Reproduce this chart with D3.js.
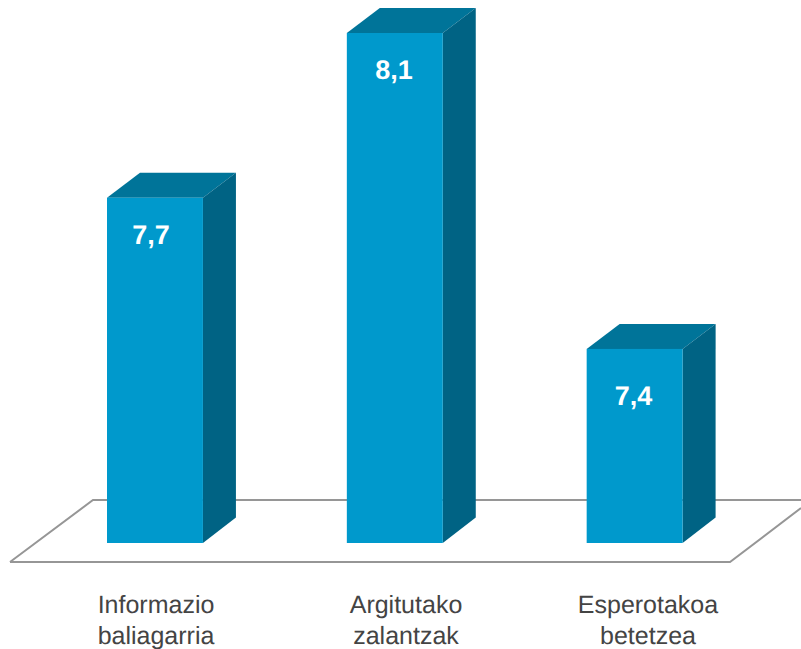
<!DOCTYPE html>
<html>
<head>
<meta charset="utf-8">
<script src="https://cdn.jsdelivr.net/npm/d3@7"></script>
<style>
    html, body { margin: 0; padding: 0; background: #fff; }
    svg { display: block; }
    text { font-family: "Liberation Sans", Arial, sans-serif; text-rendering: geometricPrecision; }
</style>
</head>
<body>
<div id="chart"></div>
<script>
// chart data
var categories = [["Informazio", "baliagarria"], ["Argitutako", "zalantzak"], ["Esperotakoa", "betetzea"]];
var values = [7.735, 8.1, 7.4];

var width = 801,
    height = 649,
    depthX = 33,
    depthY = 25,
    baseY = 543;

var names = categories.map(function (d) { return d[0]; });

// value labels do not sit at the same depth in every bar
var labelDrop = [46, 46, 56];

var x = d3.scaleBand().domain(names).range([107, 682.6]).paddingInner(0.6);
// text is not evenly spaced in the original, so these are ordinal
var labelX = d3.scaleOrdinal().domain(names).range([156, 406, 648]);
var valueX = d3.scaleOrdinal().domain(names).range([151, 394, 633.5]);
var y = d3.scaleLinear().domain([6.97, 8.1]).range([baseY, 33]);

var commaFormat = function (v) { return d3.format(".1f")(v).replace(".", ","); };

var svg = d3.select("#chart").append("svg")
    .attr("width", width)
    .attr("height", height);

// the floor the bars stand on
svg.append("path")
    .attr("d", "M10,562L730,562L801,508M801,500L93,500L10,562")
    .attr("fill", "none")
    .attr("stroke", "#969696")
    .attr("stroke-width", 2);

var bars = svg.selectAll("g.bar")
    .data(values)
    .enter()
    .append("g")
    .attr("class", "bar");

// top face
bars.append("path")
    .attr("fill", "#007499")
    .attr("d", function (d, i) {
        var x0 = x(names[i]), x1 = x0 + x.bandwidth(), t = y(d);
        return "M" + x0 + "," + t + "L" + (x0 + depthX) + "," + (t - depthY) +
            "L" + (x1 + depthX) + "," + (t - depthY) + "L" + x1 + "," + t + "Z";
    });

// side face
bars.append("path")
    .attr("fill", "#006384")
    .attr("d", function (d, i) {
        var x1 = x(names[i]) + x.bandwidth(), t = y(d);
        return "M" + x1 + "," + t + "L" + (x1 + depthX) + "," + (t - depthY) +
            "L" + (x1 + depthX) + "," + (baseY - depthY - 0.5) + "L" + x1 + "," + baseY + "Z";
    });

// front face
bars.append("rect")
    .attr("fill", "#0099cc")
    .attr("x", function (d, i) { return x(names[i]); })
    .attr("y", function (d) { return y(d); })
    .attr("width", x.bandwidth())
    .attr("height", function (d) { return baseY - y(d); });

bars.append("text")
    .attr("x", function (d, i) { return valueX(names[i]); })
    .attr("y", function (d, i) { return y(d) + labelDrop[i]; })
    .attr("text-anchor", "middle")
    .attr("fill", "#fff")
    .attr("font-weight", "bold")
    .attr("font-size", 27)
    .text(commaFormat);

var labels = svg.selectAll("text.cat")
    .data(categories)
    .enter()
    .append("text")
    .attr("class", "cat")
    .attr("text-anchor", "middle")
    .attr("fill", "#444")
    .attr("font-size", 25);

labels.selectAll("tspan")
    .data(function (d) { return d; })
    .enter()
    .append("tspan")
    .attr("x", function () { return labelX(d3.select(this.parentNode).datum()[0]); })
    .attr("y", function (d, i) { return 613 + i * 30.5; })
    .text(function (d) { return d; });
</script>
</body>
</html>
